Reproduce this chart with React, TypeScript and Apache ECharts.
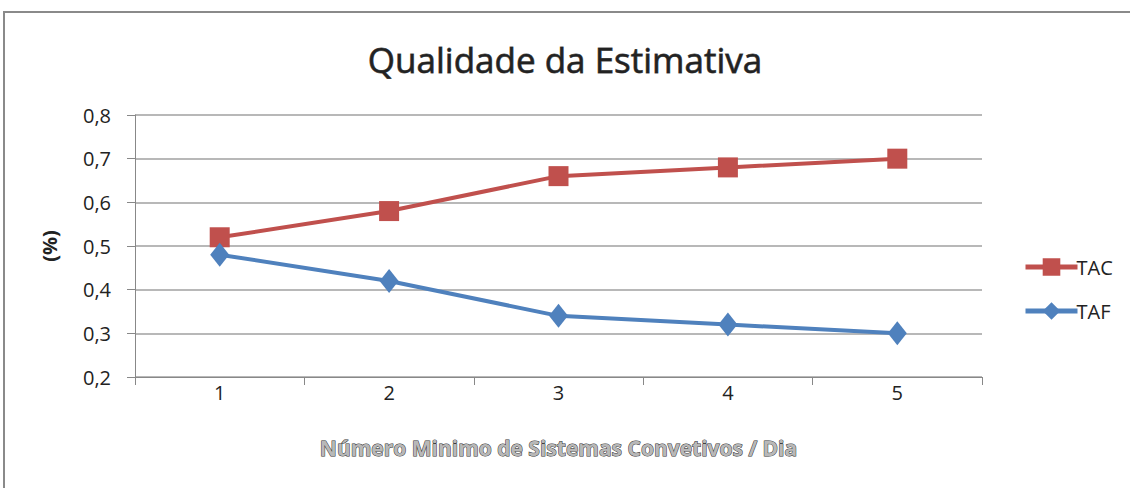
import React, { useEffect, useRef } from "react";
import * as echarts from "echarts";

const categories = ["1", "2", "3", "4", "5"];
const tacValues = [0.52, 0.58, 0.66, 0.68, 0.7];
const tafValues = [0.48, 0.42, 0.34, 0.32, 0.3];
const seriesNames = ["TAC", "TAF"];

export default function App() {
  const ref = useRef<HTMLDivElement>(null);
  useEffect(() => {
    const chart = echarts.init(ref.current!, null, { renderer: "svg" });
    const font = "'Open Sans', 'Liberation Sans', sans-serif";
    chart.setOption({
      animation: false,
      backgroundColor: "#ffffff",
      textStyle: { fontFamily: font },
      title: {
        text: "Qualidade da Estimativa",
        left: "center",
        top: 37,
        textStyle: {
          fontSize: 35,
          fontWeight: "normal",
          color: "#222",
          fontFamily: font,
          textBorderColor: "#555",
          textBorderWidth: 0.8,
        },
      },
      graphic: [
        {
          type: "rect",
          shape: { x: 4, y: 12, width: 1140, height: 490 },
          style: { fill: "none", stroke: "#8a8a8a", lineWidth: 2 },
          silent: true,
        },
      ],
      legend: {
        orient: "vertical",
        left: 1018,
        top: 252,
        itemGap: 24,
        itemWidth: 52,
        itemHeight: 22,
        lineStyle: { width: 5 },
        textStyle: { fontSize: 20, color: "#222", fontFamily: font, padding: [0, 0, 0, -6] },
        data: seriesNames,
      },
      grid: { left: 135, right: 148, top: 115, bottom: 111 },
      xAxis: {
        type: "category",
        data: categories,
        boundaryGap: true,
        name: "Número Minimo de Sistemas Convetivos / Dia",
        nameLocation: "middle",
        nameGap: 60,
        nameTextStyle: {
          fontSize: 21,
          fontWeight: "bold",
          color: "#b8b8b8",
          fontFamily: font,
          textBorderColor: "#333",
          textBorderWidth: 1,
        },
        axisLine: { lineStyle: { color: "#888", width: 1 } },
        axisTick: { show: true, length: 8, lineStyle: { color: "#888" }, alignWithLabel: false },
        axisLabel: { fontSize: 20, color: "#222", margin: 5 },
        splitLine: { show: false },
      },
      yAxis: {
        type: "value",
        min: 0.2,
        max: 0.8,
        interval: 0.1,
        name: "(%)",
        nameLocation: "middle",
        nameGap: 76,
        nameRotate: 90,
        nameTextStyle: { fontSize: 20, fontWeight: "bold", color: "#222", fontFamily: font },
        axisLine: { show: true, lineStyle: { color: "#888", width: 1 } },
        axisTick: { show: true, length: 8, inside: false, lineStyle: { color: "#888" } },
        axisLabel: {
          fontSize: 20,
          color: "#222",
          margin: 24,
          formatter: (v: number) => v.toFixed(1).replace(".", ","),
        },
        splitLine: { lineStyle: { color: "#a0a0a0", width: 1.5 } },
      },
      series: [
        {
          name: seriesNames[0],
          type: "line",
          data: tacValues,
          symbol: "rect",
          symbolSize: 20,
          lineStyle: { color: "#C0504D", width: 4 },
          itemStyle: { color: "#C0504D" },
        },
        {
          name: seriesNames[1],
          type: "line",
          data: tafValues,
          symbol: "diamond",
          symbolSize: [19, 24],
          lineStyle: { color: "#4F81BD", width: 4 },
          itemStyle: { color: "#4F81BD" },
        },
      ],
    });
    return () => chart.dispose();
  }, []);
  return (
    <div
      ref={ref}
      style={{ position: "fixed", left: 0, top: 0, width: 1130, height: 488 }}
    />
  );
}
